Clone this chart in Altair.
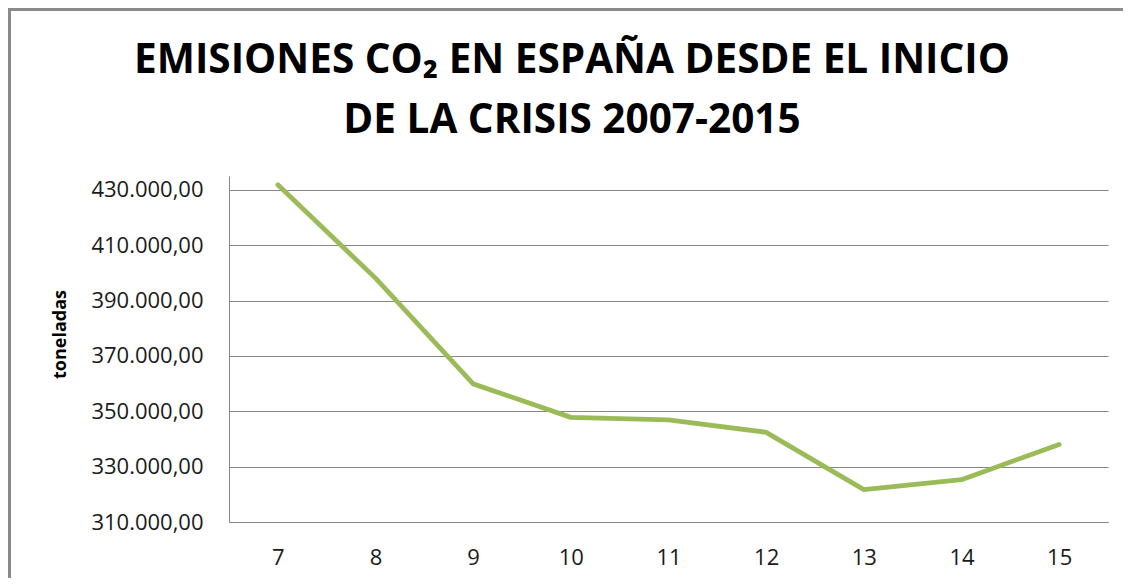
import altair as alt
import pandas as pd

# ---- data ----
YEARS = ["7", "8", "9", "10", "11", "12", "13", "14", "15"]
EMISSIONS = [431800, 398100, 359900, 347800, 346900, 342400, 321700, 325300, 338000]
Y_TICKS = [310000, 330000, 350000, 370000, 390000, 410000, 430000]
TITLE_LINES = ["EMISIONES CO\u2082 EN ESPAÑA DESDE EL INICIO", "DE LA CRISIS 2007-2015"]
Y_TITLE = "toneladas"

df = pd.DataFrame({"year": YEARS, "value": EMISSIONS})

FONT = "Open Sans"
GRID = "#878787"

line = alt.Chart(df).mark_line(
    color="#9BBB59", strokeWidth=4.8, strokeCap="round", strokeJoin="round"
).encode(
    x=alt.X("year:O", sort=YEARS, scale=alt.Scale(padding=0.5),
            axis=alt.Axis(title=None, labelAngle=0, ticks=False, domainColor=GRID,
                          labelFont=FONT, labelFontSize=22, labelColor="#1a1a1a",
                          labelPadding=35, labelBaseline="middle")),
    y=alt.Y("value:Q", scale=alt.Scale(domain=[310000, 435000], nice=False, zero=False),
            axis=alt.Axis(values=Y_TICKS, title=Y_TITLE, ticks=False,
                          labelExpr="replace(replace(replace(format(datum.value, ',.2f'), ',', '_'), '.', ','), '_', '.')",
                          labelFont=FONT, labelFontSize=22, labelColor="#1a1a1a",
                          labelPadding=26, labelBaseline="middle",
                          grid=True, gridColor=GRID, gridWidth=1.2, domainColor=GRID,
                          titleFont=FONT, titleFontSize=18, titleFontWeight="bold",
                          titleColor="#000000", titleAngle=270, titleX=-169, titleY=158,
                          titleBaseline="middle", titleAlign="center")),
)

title1 = alt.Chart(alt.Data(values=[{"t": TITLE_LINES[0]}])).mark_text(
    font=FONT, fontSize=40.5, fontWeight="bold", align="center", baseline="alphabetic",
    color="#000000"
).encode(text="t:N", x=alt.value(343), y=alt.value(-103))

title2 = alt.Chart(alt.Data(values=[{"t": TITLE_LINES[1]}])).mark_text(
    font=FONT, fontSize=40.5, fontWeight="bold", align="center", baseline="alphabetic",
    color="#000000"
).encode(text="t:N", x=alt.value(343), y=alt.value(-43))

border_top = alt.Chart(alt.Data(values=[{"a": 1}])).mark_rule(
    color="#8a8a8a", strokeWidth=3
).encode(x=alt.value(-221), x2=alt.value(910), y=alt.value(-166.5))

border_left = alt.Chart(alt.Data(values=[{"a": 1}])).mark_rule(
    color="#8a8a8a", strokeWidth=3
).encode(x=alt.value(-219.5), y=alt.value(-168), y2=alt.value(420))

chart = alt.layer(line, title1, title2, border_top, border_left).properties(
    width=879, height=346,
    autosize=alt.AutoSizeParams(type="none"),
    padding={"left": 221, "top": 168, "right": 15, "bottom": 56},
    background="white",
).configure_view(stroke=None)

chart.save("out.html", embed_options={"renderer": "svg", "actions": False})
